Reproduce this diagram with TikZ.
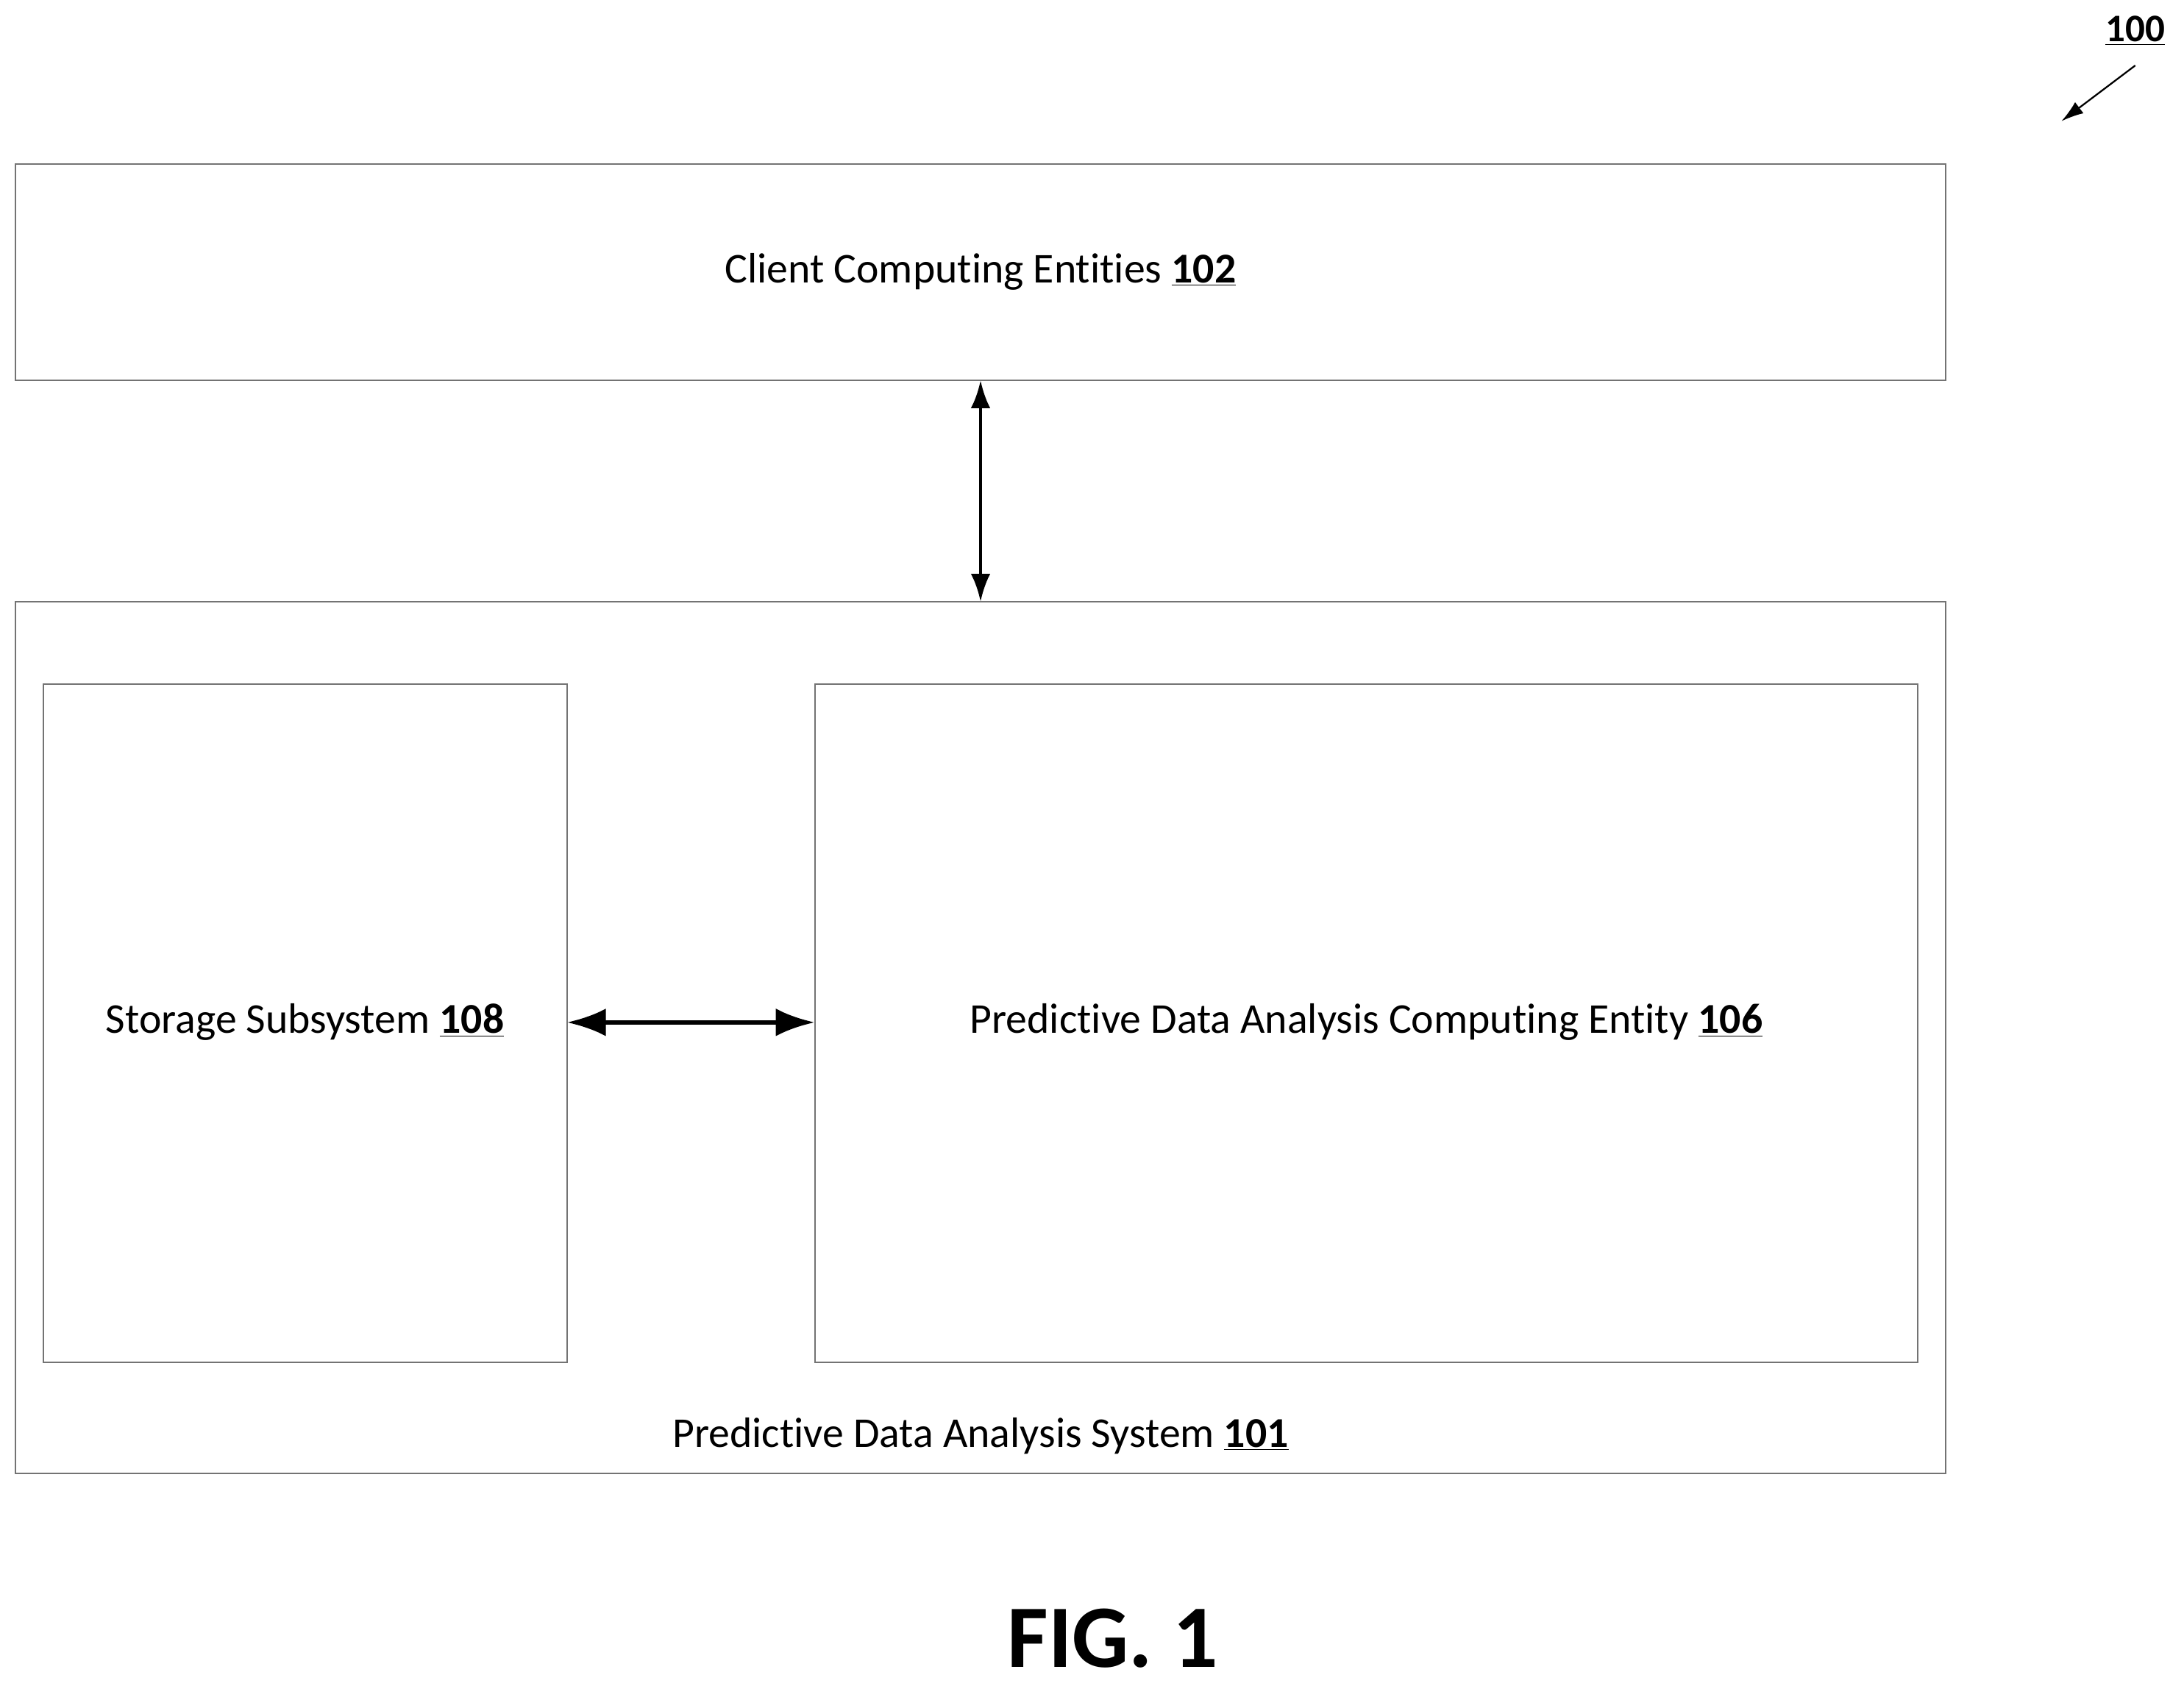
\documentclass[tikz,border=0pt]{standalone}
\usepackage{fontspec}
\setmainfont[RawFeature={-liga;-clig}]{Carlito}
\usetikzlibrary{arrows.meta}
\begin{document}
\begin{tikzpicture}[x=1pt,y=-1pt,
  box/.style={draw=black!55,line width=1pt},
  lbl/.style={font=\fontsize{30.5}{34}\selectfont,inner sep=0pt},
  arr/.style={line width=3.5pt,{Latex[length=28pt,width=20pt]}-{Latex[length=28pt,width=20pt]}}]
\useasboundingbox (0,0) rectangle (1568,1210);
\draw[box] (11,118) rectangle (1397,273);
\draw[box] (11,432) rectangle (1397,1058);
\draw[box] (31,491) rectangle (407,978);
\draw[box] (585,491) rectangle (1377,978);
\coordinate (ct) at (704,273);
\coordinate (sb) at (704,432);
\coordinate (sr) at (407,734);
\coordinate (pl) at (585,734);
\node[lbl] (c) at (704,195) {Client Computing Entities \textbf{\underline{102}}};
\node[lbl] (s) at (219,734) {Storage Subsystem \textbf{\underline{108}}};
\node[lbl] (p) at (981,734) {Predictive Data Analysis Computing Entity \textbf{\underline{106}}};
\node[lbl] (y) at (704,1031) {Predictive Data Analysis System \textbf{\underline{101}}};
\draw[arr,line width=2.5pt,{Latex[length=20pt,width=14pt]}-{Latex[length=20pt,width=14pt]}] (ct) -- (sb);
\draw[arr] (sr) -- (pl);
\node[lbl,font=\fontsize{28}{30}\selectfont\bfseries] (n) at (1533,22) {\underline{100}};
\coordinate (a1) at (1533,47);
\coordinate (a2) at (1480,87);
\draw[line width=1.2pt,-{Latex[length=16pt,width=10pt]}] (a1) -- (a2);
\node[lbl,font=\fontsize{64}{70}\selectfont\bfseries] (f) at (799,1176) {FIG. 1};
\end{tikzpicture}
\end{document}
